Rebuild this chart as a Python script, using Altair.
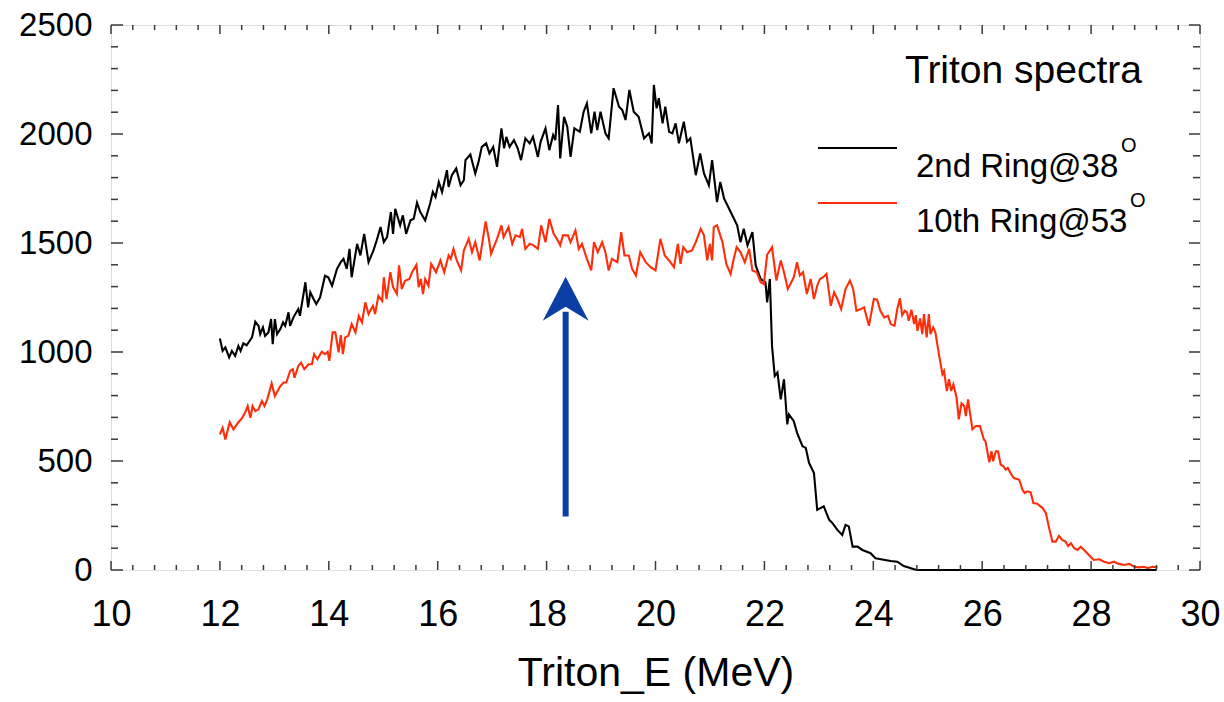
import altair as alt
import pandas as pd

# ---------------- data ----------------
black_e = [12.00, 12.05, 12.10, 12.17, 12.22, 12.28, 12.34, 12.38, 12.43, 12.49, 12.59, 12.65, 12.71, 12.74,
           12.79, 12.83, 12.89, 12.94, 12.97, 13.01, 13.05, 13.11, 13.16, 13.20, 13.26, 13.29, 13.35, 13.44,
           13.47, 13.57, 13.62, 13.66, 13.72, 13.77, 13.84, 13.93, 13.99, 14.06, 14.15, 14.22, 14.27, 14.33,
           14.38, 14.42, 14.52, 14.58, 14.65, 14.73, 14.82, 14.88, 14.95, 15.01, 15.07, 15.14, 15.18, 15.22,
           15.31, 15.36, 15.42, 15.50, 15.56, 15.62, 15.68, 15.77, 15.86, 15.91, 15.96, 16.02, 16.08, 16.17,
           16.20, 16.26, 16.34, 16.42, 16.48, 16.51, 16.60, 16.69, 16.75, 16.81, 16.89, 16.95, 17.02, 17.09,
           17.17, 17.22, 17.26, 17.32, 17.40, 17.47, 17.53, 17.61, 17.69, 17.75, 17.84, 17.89, 17.98, 18.05,
           18.12, 18.16, 18.21, 18.25, 18.32, 18.38, 18.44, 18.51, 18.61, 18.68, 18.74, 18.82, 18.88, 18.93,
           18.99, 19.08, 19.14, 19.23, 19.33, 19.39, 19.45, 19.52, 19.60, 19.69, 19.79, 19.88, 19.93, 19.97,
           20.02, 20.06, 20.13, 20.18, 20.25, 20.31, 20.37, 20.43, 20.52, 20.58, 20.64, 20.74, 20.82, 20.89,
           20.98, 21.04, 21.13, 21.19, 21.26, 21.32, 21.41, 21.50, 21.56, 21.62, 21.69, 21.78, 21.84, 21.93,
           22.02, 22.05, 22.10, 22.14, 22.19, 22.24, 22.30, 22.36, 22.42, 22.45, 22.54, 22.60, 22.70, 22.76,
           22.82, 22.91, 22.97, 23.09, 23.19, 23.25, 23.34, 23.43, 23.49, 23.55, 23.62, 23.71, 23.80, 23.95,
           24.04, 24.32, 24.44, 24.56, 24.75, 24.81, 25.50, 27.00, 29.20]
black_counts = [1062, 1005, 1021, 975, 1005, 982, 1028, 1005, 1040, 1031, 1067, 1139, 1120, 1082,
                1113, 1074, 1090, 1151, 1036, 1151, 1082, 1105, 1136, 1120, 1182, 1120, 1159, 1197,
                1166, 1320, 1205, 1274, 1243, 1220, 1251, 1350, 1343, 1304, 1381, 1412, 1427, 1381,
                1473, 1343, 1496, 1443, 1542, 1412, 1466, 1512, 1573, 1504, 1527, 1642, 1542, 1657,
                1581, 1627, 1542, 1604, 1611, 1685, 1642, 1604, 1680, 1734, 1711, 1780, 1734, 1834,
                1757, 1811, 1842, 1765, 1788, 1880, 1906, 1819, 1872, 1941, 1957, 1911, 1941, 1849,
                2026, 1934, 1987, 1941, 1972, 1934, 1880, 1980, 1957, 1987, 1895, 1964, 2026, 1926,
                1995, 1972, 2133, 1888, 2079, 2033, 1895, 2026, 2010, 2102, 2141, 2003, 2102, 2018,
                2102, 2003, 1980, 2210, 2125, 2110, 2064, 2202, 2102, 2079, 1980, 2003, 1957, 2225,
                2118, 2164, 2049, 2125, 2010, 2003, 2049, 1957, 2056, 1964, 1980, 1811, 1911, 1819,
                1765, 1880, 1688, 1780, 1703, 1673, 1627, 1581, 1504, 1565, 1489, 1550, 1397, 1335,
                1320, 1228, 1335, 1028, 890, 906, 783, 875, 668, 714, 683, 629, 568, 560,
                491, 445, 276, 292, 230, 215, 184, 161, 207, 200, 107, 107, 92, 77,
                54, 41, 38, 18, 3, 0, 0, 0, 0]

red_e = [12.00, 12.05, 12.10, 12.18, 12.25, 12.34, 12.41, 12.46, 12.51, 12.56, 12.60, 12.65, 12.71, 12.77,
         12.82, 12.87, 12.95, 13.01, 13.11, 13.17, 13.22, 13.29, 13.34, 13.37, 13.44, 13.49, 13.55, 13.63,
         13.69, 13.73, 13.79, 13.87, 13.93, 13.98, 14.01, 14.07, 14.12, 14.18, 14.22, 14.26, 14.30, 14.36,
         14.42, 14.49, 14.55, 14.61, 14.67, 14.73, 14.81, 14.85, 14.91, 14.98, 15.01, 15.06, 15.13, 15.18,
         15.25, 15.29, 15.34, 15.40, 15.48, 15.53, 15.61, 15.65, 15.69, 15.73, 15.77, 15.83, 15.88, 15.97,
         16.05, 16.12, 16.20, 16.24, 16.29, 16.35, 16.43, 16.48, 16.57, 16.63, 16.69, 16.77, 16.88, 16.94,
         16.98, 17.04, 17.09, 17.17, 17.21, 17.30, 17.37, 17.43, 17.51, 17.55, 17.61, 17.69, 17.76, 17.84,
         17.90, 17.98, 18.05, 18.13, 18.19, 18.25, 18.30, 18.39, 18.44, 18.53, 18.59, 18.65, 18.74, 18.82,
         18.87, 18.94, 19.02, 19.08, 19.14, 19.20, 19.30, 19.37, 19.43, 19.51, 19.57, 19.64, 19.72, 19.82,
         19.91, 20.00, 20.09, 20.17, 20.25, 20.34, 20.41, 20.46, 20.51, 20.58, 20.67, 20.74, 20.83, 20.89,
         20.95, 21.00, 21.04, 21.07, 21.13, 21.23, 21.30, 21.38, 21.43, 21.49, 21.56, 21.64, 21.72, 21.78,
         21.86, 21.93, 21.99, 22.05, 22.14, 22.22, 22.30, 22.36, 22.43, 22.51, 22.54, 22.60, 22.65, 22.71,
         22.78, 22.85, 22.91, 22.97, 23.02, 23.08, 23.14, 23.22, 23.28, 23.34, 23.41, 23.49, 23.57, 23.63,
         23.69, 23.77, 23.83, 23.92, 24.01, 24.07, 24.13, 24.20, 24.27, 24.32, 24.39, 24.44, 24.49, 24.53,
         24.58, 24.62, 24.65, 24.70, 24.75, 24.78, 24.81, 24.86, 24.90, 24.93, 24.98, 25.02, 25.05, 25.10,
         25.14, 25.21, 25.27, 25.30, 25.35, 25.39, 25.43, 25.47, 25.53, 25.57, 25.62, 25.67, 25.70, 25.74,
         25.82, 25.88, 25.96, 26.03, 26.06, 26.13, 26.17, 26.20, 26.25, 26.29, 26.34, 26.39, 26.43, 26.47,
         26.52, 26.58, 26.68, 26.74, 26.78, 26.83, 26.89, 26.94, 27.01, 27.11, 27.17, 27.23, 27.29, 27.35,
         27.41, 27.47, 27.53, 27.58, 27.63, 27.69, 27.75, 27.81, 27.87, 27.93, 27.99, 28.05, 28.15, 28.24,
         28.33, 28.42, 28.51, 28.61, 28.70, 28.79, 28.88, 28.97, 29.04, 29.13, 29.22]
red_counts = [622, 652, 599, 678, 645, 678, 698, 721, 752, 698, 752, 729, 737, 775,
              752, 783, 856, 798, 844, 860, 860, 913, 921, 882, 936, 951, 921, 944,
              944, 990, 967, 1001, 990, 1001, 959, 1090, 1090, 998, 1077, 990, 1067, 1074,
              1128, 1090, 1166, 1136, 1228, 1174, 1212, 1174, 1258, 1235, 1343, 1243, 1366, 1297,
              1266, 1397, 1289, 1327, 1335, 1366, 1400, 1297, 1335, 1266, 1335, 1304, 1404, 1366,
              1420, 1366, 1443, 1427, 1473, 1420, 1374, 1466, 1519, 1458, 1504, 1420, 1599, 1519,
              1450, 1489, 1519, 1581, 1527, 1573, 1496, 1535, 1527, 1565, 1473, 1496, 1489, 1473,
              1581, 1504, 1611, 1542, 1519, 1489, 1535, 1535, 1504, 1558, 1473, 1496, 1427, 1374,
              1504, 1458, 1504, 1458, 1374, 1427, 1412, 1550, 1443, 1443, 1381, 1351, 1458, 1412,
              1389, 1374, 1519, 1443, 1420, 1389, 1496, 1404, 1481, 1458, 1466, 1504, 1565, 1535,
              1420, 1496, 1420, 1573, 1581, 1504, 1404, 1358, 1420, 1481, 1458, 1412, 1473, 1374,
              1366, 1320, 1312, 1446, 1481, 1328, 1420, 1366, 1289, 1328, 1343, 1412, 1351, 1366,
              1266, 1335, 1243, 1304, 1335, 1343, 1358, 1212, 1274, 1243, 1197, 1289, 1328, 1289,
              1189, 1197, 1205, 1120, 1243, 1240, 1189, 1159, 1166, 1128, 1120, 1197, 1246, 1169,
              1189, 1182, 1143, 1194, 1128, 1169, 1097, 1154, 1082, 1174, 1067, 1174, 1082, 1113,
              1090, 982, 898, 913, 821, 875, 821, 852, 790, 691, 764, 752, 706, 783,
              645, 660, 660, 599, 591, 494, 545, 499, 545, 545, 483, 476, 460, 468,
              445, 422, 414, 368, 353, 361, 356, 307, 304, 284, 261, 192, 130, 130,
              157, 138, 130, 110, 123, 100, 92, 107, 92, 77, 61, 46, 49, 38,
              31, 38, 28, 23, 28, 15, 12, 15, 8, 15, 12]

series_names = ["2nd Ring@38", "10th Ring@53"]
series_colors = ["#000000", "#ff2d0a"]
legend_title = "Triton spectra"
x_title = "Triton_E (MeV)"

x_major = [10, 12, 14, 16, 18, 20, 22, 24, 26, 28, 30]
y_major = [0, 500, 1000, 1500, 2000, 2500]

arrow_e = [18.35]
arrow_from = [245]
arrow_to = [1345]

# ---------------- layout ----------------
W, H = 1089, 545
AXIS = "#3a3a3a"
BLUE = "#0b3fa6"
FONT = "Liberation Sans"

x_minor = [round(10 + 0.4 * i, 1) for i in range(51) if round(10 + 0.4 * i, 1) not in x_major]
y_minor = [100 * i for i in range(26) if 100 * i not in y_major]

xscale = alt.Scale(domain=[10, 30], nice=False, zero=False)
yscale = alt.Scale(domain=[0, 2500], nice=False, zero=False)

df = pd.concat([
    pd.DataFrame({"E": black_e, "counts": black_counts, "series": series_names[0]}),
    pd.DataFrame({"E": red_e, "counts": red_counts, "series": series_names[1]}),
])

lines = alt.Chart(df).mark_line(strokeWidth=2.1).encode(
    x=alt.X("E:Q", scale=xscale,
            axis=alt.Axis(values=x_major, title=x_title, ticks=False, tickSize=0, domain=False, grid=False,
                          labelFontSize=36, labelPadding=27, labelFlush=False, labelColor="#000",
                          titleFontSize=41, titleFontWeight="normal", titlePadding=21, titleColor="#000",
                          format="d")),
    y=alt.Y("counts:Q", scale=yscale,
            axis=alt.Axis(values=y_major, title=None, ticks=False, tickSize=0, domain=False, grid=False,
                          labelFontSize=33, labelPadding=19, labelFlush=False, labelColor="#000",
                          format="d")),
    color=alt.Color("series:N", scale=alt.Scale(domain=series_names, range=series_colors), legend=None),
)


def xticks(vals, length, top):
    y0, y1 = (0, length) if top else (H, H - length)
    return alt.Chart(pd.DataFrame({"E": vals})).mark_rule(color=AXIS, strokeWidth=1.5).encode(
        x=alt.X("E:Q", scale=xscale), y=alt.value(y0), y2=alt.value(y1))


def yticks(vals, length, right):
    x0, x1 = (W, W - length) if right else (0, length)
    return alt.Chart(pd.DataFrame({"counts": vals})).mark_rule(color=AXIS, strokeWidth=1.5).encode(
        y=alt.Y("counts:Q", scale=yscale), x=alt.value(x0), x2=alt.value(x1))


ticks = [xticks(x_major, 9, False), xticks(x_minor, 5, False), xticks(x_major, 9, True), xticks(x_minor, 5, True),
         yticks(y_major, 12, False), yticks(y_minor, 7, False), yticks(y_major, 11, True), yticks(y_minor, 7, True)]

arrow_df = pd.DataFrame({"E": arrow_e, "counts": arrow_from, "tip": arrow_to})
shaft = alt.Chart(arrow_df).transform_calculate(tip="datum.tip - 160").mark_rule(color=BLUE, strokeWidth=6).encode(
    x=alt.X("E:Q", scale=xscale), y=alt.Y("counts:Q", scale=yscale), y2=alt.Y2("tip:Q"))
head = alt.Chart(arrow_df).mark_point(
    shape="M0,0L0.52,1L0,0.68L-0.52,1Z", size=7744, filled=True, color=BLUE, opacity=1, strokeWidth=0
).encode(x=alt.X("E:Q", scale=xscale), y=alt.Y("tip:Q", scale=yscale))

one = pd.DataFrame({"a": [0]})


def label(text, x, y, size):
    return alt.Chart(one).mark_text(text=text, font=FONT, fontSize=size, align="left",
                                    baseline="alphabetic", color="#000").encode(
        x=alt.value(x), y=alt.value(y))


leg_title = label(legend_title, 794, 58, 39)
leg_line1 = alt.Chart(one).mark_rule(color=series_colors[0], strokeWidth=2).encode(
    x=alt.value(707), x2=alt.value(786), y=alt.value(123))
leg_line2 = alt.Chart(one).mark_rule(color=series_colors[1], strokeWidth=2).encode(
    x=alt.value(707), x2=alt.value(786), y=alt.value(178))
leg_text1 = label(series_names[0], 805, 152, 33)
leg_text2 = label(series_names[1], 805, 207, 33)
leg_sup1 = label("O", 1010, 127, 20)
leg_sup2 = label("O", 1019, 182, 20)

chart = alt.layer(
    lines, *ticks, shaft, head, leg_title, leg_line1, leg_line2, leg_text1, leg_text2, leg_sup1, leg_sup2
).properties(
    width=W, height=H, autosize="none",
    padding={"left": 111, "top": 25, "right": 24, "bottom": 132},
).configure_view(stroke=AXIS, strokeWidth=2).configure_axis(labelFont=FONT, titleFont=FONT
).configure(background="white")

chart.save("out.html", embed_options={"renderer": "svg", "actions": False})
